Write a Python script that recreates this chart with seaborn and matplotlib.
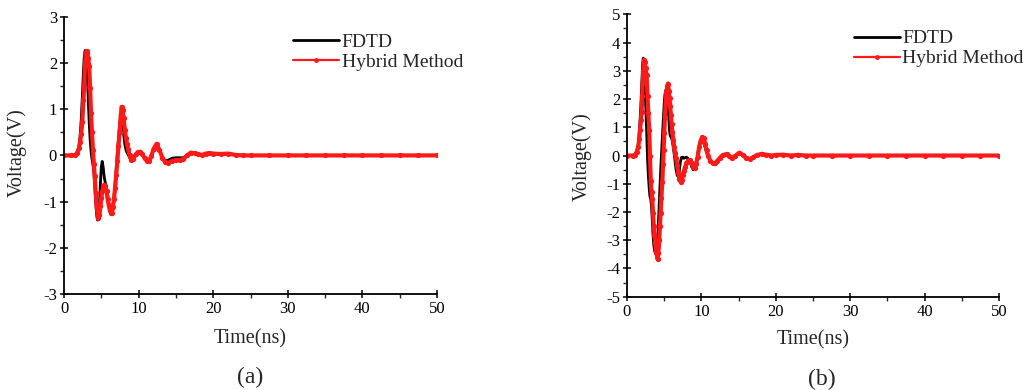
import numpy as np
import matplotlib
matplotlib.use("Agg")
import matplotlib.pyplot as plt
import seaborn as sns
from matplotlib.lines import Line2D
from matplotlib.ticker import MultipleLocator

# 図(a)のデータ（時間 ns, 電圧 V）
t_a = [0, 1.0, 1.5, 1.8, 2.0, 2.15, 2.3, 2.45, 2.6, 2.7, 2.82, 2.92, 3.02, 3.12, 3.25,
       3.38, 3.5, 3.62, 3.75, 3.88, 4.0, 4.12, 4.25, 4.38, 4.5, 4.62, 4.75, 4.88, 5.0,
       5.12, 5.25, 5.4, 5.55, 5.7, 5.85, 6.0, 6.15, 6.3, 6.42, 6.55, 6.7, 6.85, 7.0,
       7.15, 7.3, 7.45, 7.6, 7.72, 7.85, 8.0, 8.15, 8.3, 8.45, 8.6, 8.8, 9.0, 9.3, 9.6,
       9.9, 10.2, 10.5, 10.8, 11.1, 11.4, 11.7, 12.0, 12.4, 12.8, 13.2, 13.6, 14.0,
       14.5, 15.0, 15.5, 16.0, 16.5, 17.0, 17.5, 18.0, 18.5, 19.0, 19.5, 20.0, 21.0,
       22.0, 23.0, 24.0, 25.0, 27.5, 30.0, 32.5, 35.0, 37.5, 40.0, 42.5, 45.0, 47.5, 50.0]
hybrid_a = [0, 0, 0.01, 0.06, 0.15, 0.28, 0.46, 0.72, 1.2, 1.48, 1.95, 2.18, 2.26, 2.22, 2.1,
            1.93, 1.45, 0.92, 0.5, 0.12, -0.18, -0.45, -0.82, -1.1, -1.28, -1.36, -1.28, -1.1, -0.93,
            -0.78, -0.68, -0.63, -0.66, -0.78, -0.95, -1.08, -1.19, -1.25, -1.24, -1.12, -0.95, -0.7, -0.42,
            -0.12, 0.2, 0.5, 0.85, 1.05, 0.98, 0.8, 0.55, 0.38, 0.25, 0.13, 0.0, -0.1, -0.08, 0.02,
            0.07, 0.08, 0.03, -0.06, -0.12, -0.12, -0.02, 0.14, 0.25, 0.12, -0.06, -0.15, -0.16,
            -0.12, -0.1, -0.1, -0.08, 0.0, 0.06, 0.05, 0.02, 0.01, 0.04, 0.05, 0.04, 0.03,
            0.04, 0.01, 0.0, 0, 0, 0, 0, 0, 0, 0, 0, 0, 0, 0]
fdtd_a = [0, 0, 0.01, 0.08, 0.2, 0.4, 0.75, 1.25, 1.8, 2.1, 2.27, 2.26, 2.1, 1.75, 1.2,
          0.7, 0.35, 0.1, -0.08, -0.2, -0.35, -0.65, -1.0, -1.3, -1.4, -1.35, -1.05, -0.6, -0.25,
          -0.13, -0.25, -0.48, -0.6, -0.7, -0.85, -1.05, -1.2, -1.28, -1.25, -1.1, -0.9, -0.6, -0.3,
          0.05, 0.35, 0.65, 0.85, 0.88, 0.7, 0.45, 0.25, 0.12, 0.06, 0.02, -0.05, -0.1, -0.06, 0.03,
          0.08, 0.08, 0.03, -0.06, -0.12, -0.11, -0.01, 0.14, 0.24, 0.12, -0.05, -0.12, -0.1,
          -0.06, -0.05, -0.05, -0.05, 0.0, 0.05, 0.05, 0.02, 0.01, 0.03, 0.04, 0.03, 0.02,
          0.03, 0.01, 0.0, 0, 0, 0, 0, 0, 0, 0, 0, 0, 0, 0]

# 図(b)のデータ
t_b = [0, 0.8, 1.1, 1.3, 1.52, 1.65, 1.75, 1.87, 1.97, 2.05, 2.12, 2.2, 2.3, 2.4, 2.5,
       2.64, 2.76, 2.87, 3.0, 3.09, 3.2, 3.3, 3.4, 3.5, 3.6, 3.7, 3.8, 3.9, 4.0, 4.12,
       4.22, 4.34, 4.43, 4.52, 4.63, 4.75, 4.85, 4.93, 5.02, 5.1, 5.2, 5.3, 5.42, 5.52,
       5.62, 5.72, 5.8, 5.9, 6.0, 6.1, 6.22, 6.35, 6.48, 6.6, 6.75, 6.9, 7.05, 7.2, 7.35,
       7.5, 7.65, 7.8, 8.0, 8.2, 8.45, 8.7, 8.9, 9.1, 9.3, 9.5, 9.7, 9.9, 10.1, 10.3,
       10.5, 10.7, 10.9, 11.2, 11.5, 11.8, 12.1, 12.5, 12.9, 13.4, 13.7, 14.06, 14.5,
       15.1, 15.6, 16.0, 16.5, 17.0, 17.5, 18.1, 18.7, 19.4, 20.0, 21.0, 22.0, 23.0,
       24.0, 25.0, 27.5, 30.0, 32.5, 35.0, 37.5, 40.0, 42.5, 45.0, 47.5, 50.0]
hybrid_b = [0, 0, 0.03, 0.12, 0.31, 0.6, 0.9, 1.25, 1.55, 2.1, 2.6, 3.0, 3.38, 3.3, 3.1,
            2.85, 2.1, 1.5, 0.9, 0.0, -0.9, -1.3, -1.55, -2.05, -2.5, -2.8, -3.05, -3.4, -3.5, -3.68,
            -3.45, -3.0, -2.5, -2.05, -1.5, -0.95, -0.3, 0.2, 0.8, 1.35, 1.85, 2.25, 2.45, 2.55,
            2.3, 2.05, 1.75, 1.45, 1.1, 0.85, 0.55, 0.3, 0.08, -0.1, -0.35, -0.6, -0.82, -0.93, -0.85,
            -0.7, -0.55, -0.42, -0.28, -0.18, -0.16, -0.28, -0.42, -0.45, -0.3, -0.05, 0.3, 0.52, 0.65, 0.62,
            0.42, 0.18, 0.0, -0.18, -0.27, -0.28, -0.2, -0.08, 0.02, 0.05, -0.02, -0.1, -0.02,
            0.1, 0.02, -0.08, -0.12, -0.06, 0.02, 0.06, 0.03, 0.0, 0.02, 0.03, 0.0, 0.02,
            0.0, 0, 0, 0, 0, 0, 0, 0, 0, 0, 0, 0]
fdtd_b = [0, 0, 0.03, 0.15, 0.4, 0.8, 1.2, 1.8, 2.4, 2.9, 3.3, 3.45, 3.3, 2.7, 1.9,
          0.9, -0.1, -0.7, -1.2, -1.45, -1.55, -1.8, -2.3, -2.8, -3.15, -3.35, -3.45, -3.5, -3.45, -3.0,
          -2.4, -1.7, -1.1, -0.6, 0.0, 0.6, 1.1, 1.5, 1.9, 2.15, 2.3, 2.35, 2.2, 1.8,
          1.3, 0.9, 0.72, 0.66, 0.62, 0.5, 0.3, 0.05, -0.25, -0.5, -0.7, -0.75, -0.5, -0.2, -0.06,
          -0.06, -0.1, -0.08, -0.06, -0.1, -0.2, -0.4, -0.5, -0.45, -0.25, 0.05, 0.35, 0.52, 0.55, 0.45,
          0.3, 0.12, -0.02, -0.18, -0.26, -0.27, -0.2, -0.08, 0.02, 0.05, -0.02, -0.09, -0.02,
          0.09, 0.02, -0.07, -0.11, -0.06, 0.02, 0.05, 0.03, 0.0, 0.02, 0.03, 0.0, 0.02,
          0.0, 0, 0, 0, 0, 0, 0, 0, 0, 0, 0, 0]

panels = [
    dict(t=t_a, fdtd=fdtd_a, hybrid=hybrid_a, ylim=(-3, 3), label="(a)",
         rect=[0.0622, 0.246, 0.3625, 0.711], leg=(0.614, 0.94),
         xl=(0.5, -0.126), yl=(-0.099, 0.51), txt=(0.243, 0.031)),
    dict(t=t_b, fdtd=fdtd_b, hybrid=hybrid_b, ylim=(-5, 5), label="(b)",
         rect=[0.6093, 0.2392, 0.3615, 0.724], leg=(0.61, 0.945),
         xl=(0.5, -0.118), yl=(-0.094, 0.495), txt=(0.799, 0.026)),
]

sns.set_style("ticks")
plt.rcParams['font.family'] = ['Liberation Serif', 'DejaVu Serif']
plt.rcParams['axes.unicode_minus'] = False

fig = plt.figure(figsize=(10.29, 3.9), dpi=100)

for p in panels:
    ax = fig.add_axes(p["rect"])
    sns.lineplot(x=p["t"], y=p["fdtd"], ax=ax, color="black", linewidth=2.0,
                 sort=False, estimator=None)
    sns.lineplot(x=p["t"], y=p["hybrid"], ax=ax, color="#ff1a1a", linewidth=3.0,
                 marker="o", markersize=3.8, markeredgewidth=0, sort=False, estimator=None)

    ax.set_xlim(0, 50)
    ax.set_ylim(*p["ylim"])
    ax.xaxis.set_major_locator(MultipleLocator(10))
    ax.xaxis.set_minor_locator(MultipleLocator(5))
    ax.yaxis.set_major_locator(MultipleLocator(1))
    ax.yaxis.set_minor_locator(MultipleLocator(0.5))
    ax.tick_params(which="major", direction="inout", length=6, width=1.1,
                   labelsize=12, pad=2, colors="black")
    ax.tick_params(which="minor", direction="out", length=3, width=1.0)
    for s in ["top", "right"]:
        ax.spines[s].set_visible(False)
    for s in ["left", "bottom"]:
        ax.spines[s].set_linewidth(1.3)
        ax.spines[s].set_color("black")

    ax.set_xlabel("Time(ns)", fontsize=14.5)
    ax.set_ylabel("Voltage(V)", fontsize=14.5)
    ax.xaxis.set_label_coords(*p["xl"])
    ax.yaxis.set_label_coords(*p["yl"])

    handles = [
        Line2D([], [], color="black", linewidth=2.0),
        Line2D([], [], color="#ff1a1a", linewidth=1.6, marker="o", markersize=3.5,
               markeredgewidth=0),
    ]
    ax.legend(handles, ["FDTD", "Hybrid Method"], loc="upper left",
              bbox_to_anchor=p["leg"], frameon=False, fontsize=14,
              handlelength=2.35, handletextpad=0.15, labelspacing=0.12,
              borderpad=0, borderaxespad=0)

    fig.text(p["txt"][0], p["txt"][1], p["label"], fontsize=17,
             ha="center", va="center")

fig.savefig("out.png", dpi=100)
